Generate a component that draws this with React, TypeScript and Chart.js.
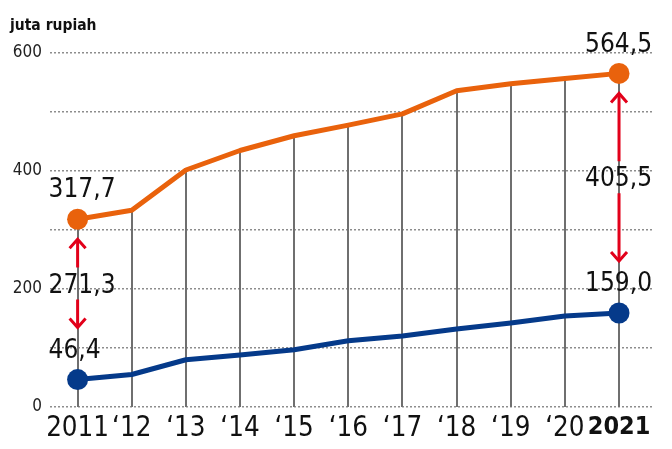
import React, { useEffect, useRef } from 'react';
import { Chart, registerables } from 'chart.js';

Chart.register(...registerables);

const years = [2011, 2012, 2013, 2014, 2015, 2016, 2017, 2018, 2019, 2020, 2021];
const xTickLabels = ['2011', '\u201812', '\u201813', '\u201814', '\u201815', '\u201816', '\u201817', '\u201818', '\u201819', '\u201820', '2021'];
const upperSeries = [317.7, 333, 401, 434, 459, 477, 496, 535, 547, 556, 564.5];
const lowerSeries = [46.4, 55, 80, 88, 97, 112, 120, 132, 142, 154, 159.0];
const yTickLabels = [0, 200, 400, 600];
const unitLabel = 'juta rupiah';

const FONT = "'DejaVu Sans Condensed', 'Liberation Sans Narrow', sans-serif";
const ORANGE = '#e9620c';
const BLUE = '#053a8a';
const RED = '#e2001a';

const fmt = (v: number) => v.toFixed(1).replace('.', ',');

const annotPlugin = {
  id: 'annot',
  beforeDatasetsDraw(chart: any) {
    const ctx = chart.ctx;
    const y0 = chart.scales.y.getPixelForValue(0);
    const meta = chart.getDatasetMeta(0);
    ctx.save();
    ctx.strokeStyle = '#6f6f6f';
    ctx.lineWidth = 2;
    meta.data.forEach((p: any) => {
      ctx.beginPath();
      ctx.moveTo(Math.round(p.x), p.y);
      ctx.lineTo(Math.round(p.x), y0);
      ctx.stroke();
    });
    ctx.restore();
  },
  afterDatasetsDraw(chart: any) {
    const ctx = chart.ctx;
    const mu = chart.getDatasetMeta(0).data;
    const ml = chart.getDatasetMeta(1).data;
    const last = years.length - 1;
    ctx.save();
    ctx.font = `26px ${FONT}`;
    ctx.fillStyle = '#111';
    ctx.textBaseline = 'middle';
    [0, last].forEach((i) => {
      const pu = mu[i];
      const pl = ml[i];
      const x = pu.x;
      const align = i === 0 ? 'left' : 'right';
      const tx = i === 0 ? x - 29 : x + 33;
      ctx.textAlign = align;
      ctx.fillText(fmt(upperSeries[i]), tx, pu.y - 28.5);
      ctx.fillText(fmt(lowerSeries[i]), tx, pl.y - 28.5);
      const top = pu.y + 20;
      const bottom = pl.y - 52;
      const mid = (top + bottom) / 2;
      ctx.fillText(fmt(upperSeries[i] - lowerSeries[i]), tx, mid + 2.5);
      ctx.strokeStyle = RED;
      ctx.lineWidth = 3;
      ctx.lineCap = 'butt';
      ctx.beginPath();
      ctx.moveTo(x, top + 1);
      ctx.lineTo(x, mid - 16);
      ctx.moveTo(x, mid + 16);
      ctx.lineTo(x, bottom - 1);
      ctx.stroke();
      ctx.beginPath();
      ctx.moveTo(x - 8, top + 9);
      ctx.lineTo(x, top);
      ctx.lineTo(x + 8, top + 9);
      ctx.moveTo(x - 8, bottom - 9);
      ctx.lineTo(x, bottom);
      ctx.lineTo(x + 8, bottom - 9);
      ctx.stroke();
    });
    ctx.restore();
  },
};

export default function App() {
  const ref = useRef<HTMLCanvasElement>(null);
  useEffect(() => {
    if (!ref.current) return;
    const last = years.length - 1;
    const endPoint = (c: any) => (c.dataIndex === 0 || c.dataIndex === last ? 10.5 : 0);
    const chart = new Chart(ref.current, {
      type: 'line',
      data: {
        datasets: [
          {
            data: years.map((y, i) => ({ x: y, y: upperSeries[i] })),
            borderColor: ORANGE,
            backgroundColor: ORANGE,
            borderWidth: 5,
            pointRadius: endPoint,
            pointBorderWidth: 0,
            borderJoinStyle: 'round',
            tension: 0,
          },
          {
            data: years.map((y, i) => ({ x: y, y: lowerSeries[i] })),
            borderColor: BLUE,
            backgroundColor: BLUE,
            borderWidth: 5,
            pointRadius: endPoint,
            pointBorderWidth: 0,
            borderJoinStyle: 'round',
            tension: 0,
          },
        ],
      },
      options: {
        responsive: false,
        animation: false,
        layout: { padding: { left: 10, right: 18, top: 0, bottom: 0 } },
        plugins: {
          legend: { display: false },
          tooltip: { enabled: false },
          title: {
            display: true,
            text: unitLabel,
            align: 'start',
            color: '#111',
            font: { family: FONT, size: 15.5, weight: 'bold', lineHeight: 1.2 },
            padding: { top: 17, bottom: 16.8 },
          },
        },
        scales: {
          x: {
            type: 'linear',
            min: 2010.49,
            max: 2021.646,
            afterBuildTicks: (s: any) => {
              s.ticks = years.map((v) => ({ value: v }));
            },
            afterFit: (s: any) => {
              s.height = 42;
            },
            grid: { display: false, drawTicks: false },
            border: { display: false },
            ticks: {
              autoSkip: false,
              maxRotation: 0,
              padding: 5,
              color: '#111',
              font: (c: any) =>
                c.index === last
                  ? { family: FONT, size: 25, weight: 'bold' }
                  : { family: FONT, size: 27.5, weight: 'normal' },
              callback: (_v: any, i: number) => xTickLabels[i],
            },
          },
          y: {
            min: 0,
            max: 600,
            afterFit: (s: any) => {
              s.width = 40;
            },
            border: { display: false, dash: [2, 2] },
            grid: {
              color: '#8d8d8d',
              lineWidth: 1.5,
              drawTicks: false,
            },
            ticks: {
              stepSize: 100,
              padding: 8,
              color: '#222',
              font: { family: FONT, size: 17 },
              callback: (v: any) => (yTickLabels.includes(Number(v)) ? String(v) : ''),
            },
          },
        },
      },
      plugins: [annotPlugin],
    } as any);
    return () => chart.destroy();
  }, []);
  return (
    <div style={{ position: 'absolute', left: 0, top: 0, width: 672, height: 449, background: '#fff' }}>
      <canvas ref={ref} width={672} height={449} style={{ display: 'block' }} />
    </div>
  );
}
